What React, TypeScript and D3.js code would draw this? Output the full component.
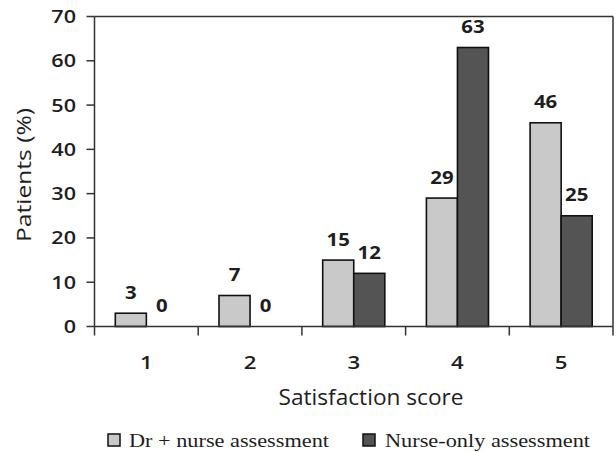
import React from "react";
import * as d3 from "d3";

const categories = ["1", "2", "3", "4", "5"];
const seriesNames = ["Dr + nurse assessment", "Nurse-only assessment"];
const drNurse = [3, 7, 15, 29, 46];
const nurseOnly = [0, 0, 12, 63, 25];
const yTicks = [0, 10, 20, 30, 40, 50, 60, 70];
const colors = ["#c9c9c9", "#545454"];

const W = 616;
const H = 452;
const left = 94.5;
const right = 613;
const top = 16.5;
const bottom = 326.5;
const sans = "'Open Sans', sans-serif";
const serif = "'Liberation Serif', 'Times New Roman', serif";

function ST(props: {
  x: number;
  y: number;
  size: number;
  weight?: number;
  anchor?: "start" | "middle" | "end";
  sx?: number;
  dy?: string;
  children: React.ReactNode;
}) {
  const { x, y, size, weight = 400, anchor = "middle", sx = 1.2, dy } = props;
  return (
    <text
      transform={`translate(${x},${y}) scale(${sx},1)`}
      textAnchor={anchor}
      fontFamily={sans}
      fontWeight={weight}
      fontSize={size}
      dy={dy}
      fill="#1e1e1e"
    >
      {props.children}
    </text>
  );
}

export default function App() {
  const x = d3.scaleBand<string>().domain(categories).range([left, right]).padding(0);
  const xs = d3
    .scaleBand<string>()
    .domain(seriesNames)
    .range([0, x.bandwidth()])
    .paddingInner(0)
    .paddingOuter(0.67);
  const y = d3.scaleLinear().domain([0, 70]).range([bottom, top]);
  const series = [drNurse, nurseOnly];

  return (
    <svg
      width={W}
      height={H}
      style={{ position: "absolute", left: 0, top: 0, background: "#fff" }}
    >
      {/* frame top and right */}
      <line x1={left} x2={right} y1={top} y2={top} stroke="#333" strokeWidth={1.5} />
      <line x1={right} x2={right} y1={top} y2={bottom} stroke="#333" strokeWidth={1.5} />
      {/* bars */}
      {series.map((vals, si) =>
        vals.map((v, ci) => {
          const bx = (x(categories[ci]) as number) + (xs(seriesNames[si]) as number);
          const bw = xs.bandwidth();
          return (
            <g key={`${si}-${ci}`}>
              {v > 0 && (
                <rect
                  x={bx}
                  y={y(v)}
                  width={bw}
                  height={y(0) - y(v)}
                  fill={colors[si]}
                  stroke="#111"
                  strokeWidth={1.6}
                />
              )}
              <ST x={bx + bw / 2} y={y(v) - 14.5} size={17} weight={700}>
                {v}
              </ST>
            </g>
          );
        })
      )}
      {/* y axis */}
      <line x1={left} x2={left} y1={top} y2={bottom} stroke="#333" strokeWidth={1.5} />
      {yTicks.map((t) => (
        <g key={t}>
          <line x1={left - 8} x2={left} y1={y(t)} y2={y(t)} stroke="#333" strokeWidth={1.5} />
          <ST x={76} y={y(t)} dy="0.36em" size={18} weight={600} anchor="end">
            {t}
          </ST>
        </g>
      ))}
      {/* x axis */}
      <line x1={left} x2={right} y1={bottom} y2={bottom} stroke="#333" strokeWidth={1.5} />
      <line x1={left} x2={left} y1={bottom} y2={bottom + 9} stroke="#333" strokeWidth={1.5} />
      {categories.map((c) => (
        <g key={c}>
          <line
            x1={(x(c) as number) + x.bandwidth()}
            x2={(x(c) as number) + x.bandwidth()}
            y1={bottom}
            y2={bottom + 9}
            stroke="#333"
            strokeWidth={1.5}
          />
          <ST x={(x(c) as number) + x.bandwidth() / 2} y={368.5} size={18.5} weight={600}>
            {c}
          </ST>
        </g>
      ))}
      <text
        x={278.5}
        y={405}
        fontFamily={sans}
        fontSize={21.5}
        fill="#1e1e1e"
        textLength={185}
        lengthAdjust="spacingAndGlyphs"
      >
        Satisfaction score
      </text>
      <text
        transform={`translate(31,242) rotate(-90)`}
        fontFamily={sans}
        fontSize={20}
        fill="#1e1e1e"
        textLength={134}
        lengthAdjust="spacingAndGlyphs"
      >
        Patients (%)
      </text>
      {/* legend */}
      {seriesNames.map((s, i) => {
        const lx = i === 0 ? 108 : 363;
        const tx = i === 0 ? 129 : 385;
        const tw = i === 0 ? 200 : 205;
        return (
          <g key={s}>
            <rect x={lx} y={434} width={12} height={12} fill={colors[i]} stroke="#111" strokeWidth={1.5} />
            <text
              x={tx}
              y={447}
              fontFamily={serif}
              fontSize={19}
              fill="#1e1e1e"
              textLength={tw}
              lengthAdjust="spacingAndGlyphs"
            >
              {s}
            </text>
          </g>
        );
      })}
    </svg>
  );
}
